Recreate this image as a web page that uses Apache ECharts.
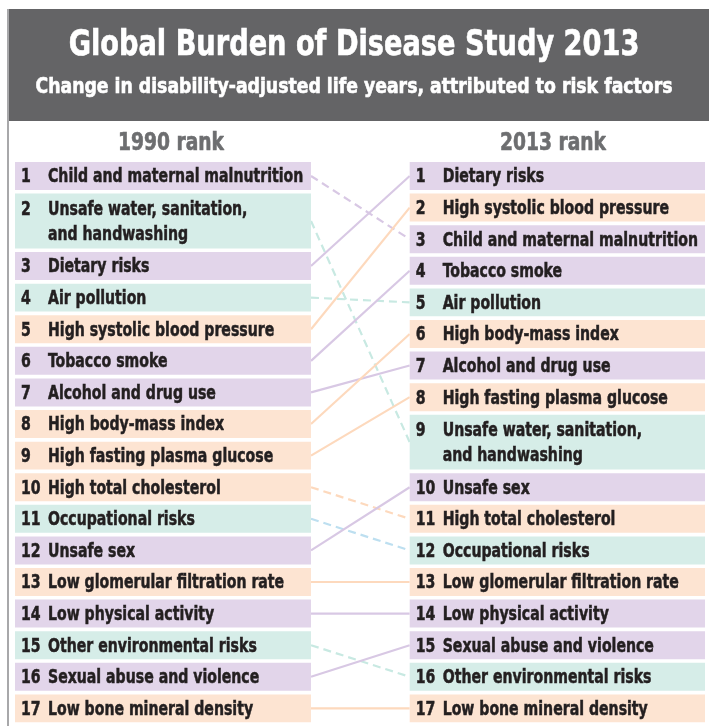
<!DOCTYPE html>
<html>
<head>
<meta charset="utf-8">
<script src="https://cdn.jsdelivr.net/npm/echarts@6/dist/echarts.min.js"></script>
<style>
  html, body { margin: 0; padding: 0; background: #fff; }
  #chart { width: 709px; height: 726px; }
</style>
</head>
<body>
<div id="chart"></div>
<script>
// Rank order in each year (a "\n" marks a wrapped label)
const ranks1990 = [
  'Child and maternal malnutrition',
  'Unsafe water, sanitation,\nand handwashing',
  'Dietary risks',
  'Air pollution',
  'High systolic blood pressure',
  'Tobacco smoke',
  'Alcohol and drug use',
  'High body-mass index',
  'High fasting plasma glucose',
  'High total cholesterol',
  'Occupational risks',
  'Unsafe sex',
  'Low glomerular filtration rate',
  'Low physical activity',
  'Other environmental risks',
  'Sexual abuse and violence',
  'Low bone mineral density'
];
const ranks2013 = [
  'Dietary risks',
  'High systolic blood pressure',
  'Child and maternal malnutrition',
  'Tobacco smoke',
  'Air pollution',
  'High body-mass index',
  'Alcohol and drug use',
  'High fasting plasma glucose',
  'Unsafe water, sanitation,\nand handwashing',
  'Unsafe sex',
  'High total cholesterol',
  'Occupational risks',
  'Low glomerular filtration rate',
  'Low physical activity',
  'Sexual abuse and violence',
  'Other environmental risks',
  'Low bone mineral density'
];

// Risk groups (box colour)
const behavioural = [
  'Child and maternal malnutrition', 'Dietary risks', 'Tobacco smoke', 'Alcohol and drug use',
  'Unsafe sex', 'Low physical activity', 'Sexual abuse and violence'
];
const environmental = [
  'Unsafe water, sanitation,\nand handwashing', 'Air pollution', 'Occupational risks', 'Other environmental risks'
];
const metabolic = [
  'High systolic blood pressure', 'High body-mass index', 'High fasting plasma glucose',
  'High total cholesterol', 'Low glomerular filtration rate', 'Low bone mineral density'
];

const boxColors = { behavioural: '#e2d5ea', environmental: '#d6ede8', metabolic: '#fde4d2' };
const lineColors = { behavioural: '#d8c8e4', environmental: '#c8e9e2', metabolic: '#fdd9bd' };
const occupationalLine = '#bddff0';

// no condensed face installed, so squeeze the condensed DejaVu a bit more
const FONT = '"DejaVu Sans Condensed", "DejaVu Sans", sans-serif';
const TEXT = '#231f20';
const SQUEEZE = 0.825;

const groupOf = name =>
  behavioural.includes(name) ? 'behavioural' : environmental.includes(name) ? 'environmental' : 'metabolic';

// column extents on the x axis (0..1)
const leftCol = [0, 0.429];
const rightCol = [0.572, 1];

// stack rows top-down; wrapped rows take a taller slot
function stackRows(list, col) {
  let top = 0;
  return list.map((name, i) => {
    const lines = name.split('\n').length;
    const slot = lines > 1 ? 1.85 : 1;
    const row = { name, rank: i + 1, lines, group: groupOf(name), x0: col[0], x1: col[1], top, bottom: top + slot - 0.115 };
    top += slot;
    return row;
  });
}
const rows1990 = stackRows(ranks1990, leftCol);
const rows2013 = stackRows(ranks2013, rightCol);
const allRows = rows1990.concat(rows2013);
const totalUnits = rows1990[rows1990.length - 1].bottom + 0.115;

const links = rows1990.map(a => {
  const b = rows2013.find(r => r.name === a.name);
  return { a, b, worse: b.rank > a.rank };
});

function headText(text, x, y, size, fill, squeeze) {
  return {
    type: 'text', x, y, scaleX: squeeze,
    style: {
      text, fill, fontFamily: FONT, fontWeight: 'bold', fontSize: size, align: 'center', verticalAlign: 'middle',
      stroke: fill, lineWidth: 0.6
    }
  };
}

const chart = echarts.init(document.getElementById('chart'));

chart.setOption({
  animation: false,
  grid: { left: 15, width: 690, top: 162, height: 566 },
  xAxis: { type: 'value', min: 0, max: 1, show: false },
  yAxis: { type: 'value', min: 0, max: totalUnits, inverse: true, show: false },
  graphic: [
    { type: 'rect', shape: { x: 8, y: 9, width: 701, height: 112 }, style: { fill: '#646466' } },
    { type: 'rect', shape: { x: 7, y: 9, width: 2, height: 717 }, style: { fill: '#a8a8aa' } },
    headText('Global Burden of Disease Study 2013', 354, 46, 36, '#fff', 0.84),
    headText('Change in disability-adjusted life years, attributed to risk factors', 354, 88, 21, '#fff', 0.915),
    headText('1990 rank', 171, 143, 25, '#6d6e70', 0.83),
    headText('2013 rank', 553, 143, 25, '#6d6e70', 0.83)
  ],
  series: [
    {
      name: 'links',
      type: 'custom',
      silent: true,
      data: links.map(l => [l.a.x1, (l.a.top + l.a.bottom) / 2, l.b.x0, (l.b.top + l.b.bottom) / 2]),
      renderItem: (params, api) => {
        const l = links[params.dataIndex];
        const p0 = api.coord([api.value(0), api.value(1)]);
        const p1 = api.coord([api.value(2), api.value(3)]);
        const stroke = l.a.name === 'Occupational risks' ? occupationalLine : lineColors[l.a.group];
        return {
          type: 'line',
          shape: { x1: p0[0], y1: p0[1], x2: p1[0], y2: p1[1] },
          style: { stroke, lineWidth: 2.2, lineDash: l.worse ? [8, 5] : null }
        };
      }
    },
    {
      name: 'boxes',
      type: 'custom',
      silent: true,
      data: allRows.map(r => [r.x0, r.x1, r.top, r.bottom]),
      renderItem: (params, api) => {
        const r = allRows[params.dataIndex];
        const p0 = api.coord([api.value(0), api.value(2)]);
        const p1 = api.coord([api.value(1), api.value(3)]);
        const h = p1[1] - p0[1];
        const numY = r.lines > 1 ? p0[1] + 16 : p0[1] + h / 2 + 1.5;
        const txt = { fill: TEXT, stroke: TEXT, lineWidth: 0.5, fontFamily: FONT, fontWeight: 'bold', fontSize: 19, verticalAlign: 'middle' };
        return {
          type: 'group',
          children: [
            { type: 'rect', shape: { x: p0[0], y: p0[1], width: p1[0] - p0[0], height: h }, style: { fill: boxColors[r.group] } },
            {
              type: 'text', x: p0[0] + 6, y: numY, scaleX: SQUEEZE,
              style: Object.assign({ text: String(r.rank) }, txt)
            },
            {
              type: 'text', x: p0[0] + 33, y: p0[1] + h / 2 + 1.5, scaleX: SQUEEZE,
              style: Object.assign({ text: r.name, lineHeight: 24.5 }, txt)
            }
          ]
        };
      }
    }
  ]
});
</script>
</body>
</html>
